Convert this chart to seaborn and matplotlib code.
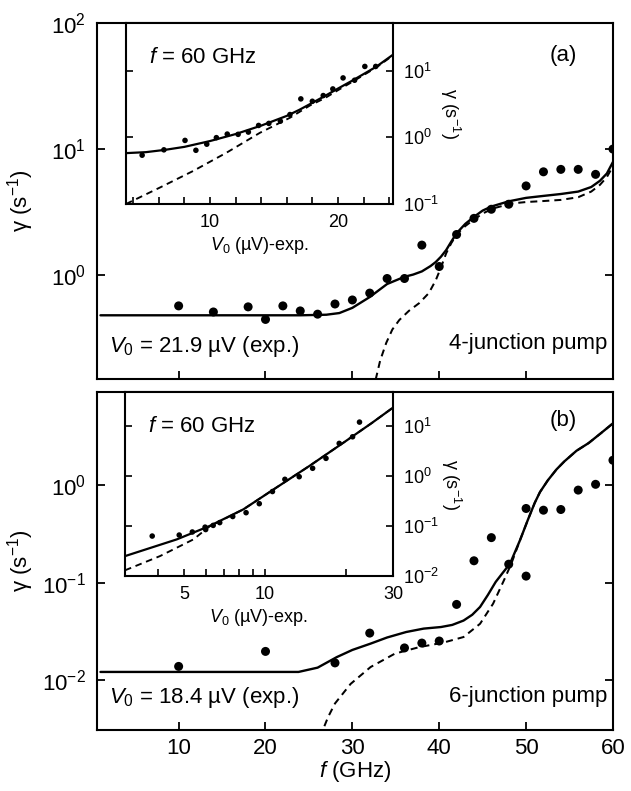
import matplotlib
matplotlib.use("Agg")
import matplotlib.pyplot as plt
from matplotlib.ticker import FixedLocator, NullLocator, NullFormatter
import seaborn as sns

# panel (a), main: 4-junction pump
a_f_pts = [10, 14, 18, 20, 22, 24, 26, 28, 30, 32, 34, 36, 38, 40, 42, 44, 46, 48, 50, 52, 54, 56, 58, 60]
a_g_pts = [0.57, 0.51, 0.56, 0.445, 0.57, 0.52, 0.49, 0.59, 0.635, 0.72, 0.94, 0.94, 1.73, 1.17,
           2.1, 2.82, 3.33, 3.65, 5.1, 6.6, 6.9, 6.9, 6.3, 10.0]
a_f_fit = [1, 24, 27, 28.5, 30, 32, 34, 36, 37, 38, 39, 39.6, 40.2, 40.8, 41.4, 42, 43, 44, 45, 46,
           48, 50, 52, 54, 56, 57.5, 58.5, 59.3, 60]
a_g_fit = [0.48, 0.48, 0.485, 0.5, 0.55, 0.67, 0.85, 0.97, 1.01, 1.07, 1.18, 1.27, 1.4, 1.58, 1.85,
           2.15, 2.55, 2.9, 3.25, 3.5, 3.85, 4.1, 4.25, 4.4, 4.6, 5.0, 5.6, 6.4, 7.9]
a_f_th = [32.3, 32.7, 33.2, 33.9, 34.6, 35.4, 36.5, 37.7, 38.8, 39.6, 40.2, 40.8, 41.4, 42.1, 43.0,
          43.9, 45.0, 46.2, 48.3, 50, 52, 54, 56, 57.5, 58.5, 59.3, 60]
a_g_th = [0.12, 0.15, 0.21, 0.29, 0.37, 0.44, 0.52, 0.6, 0.72, 0.91, 1.15, 1.49, 1.8, 2.14, 2.45,
          2.73, 3.08, 3.38, 3.7, 3.8, 3.87, 3.95, 4.15, 4.6, 5.2, 6.0, 7.3]

# panel (a), inset at f = 60 GHz
ai_v_pts = [4.7, 6.4, 8.05, 8.9, 9.75, 10.5, 11.35, 12.2, 13.0, 13.8, 14.6, 15.5, 16.25, 17.1, 18.0,
            18.85, 19.6, 20.4, 21.3, 22.1, 22.95]
ai_g_pts = [0.54, 0.65, 0.90, 0.64, 0.79, 0.99, 1.12, 1.11, 1.2, 1.51, 1.62, 1.75, 2.2, 3.78, 3.48,
            4.24, 5.33, 7.8, 7.2, 11.6, 11.6]
ai_v_fit = [3.44, 5, 6.5, 8, 10, 12, 14, 16, 17, 18, 19, 20, 21, 22, 23, 24.3]
ai_g_fit = [0.58, 0.6, 0.65, 0.72, 0.88, 1.12, 1.5, 2.1, 2.6, 3.3, 4.2, 5.4, 6.9, 8.9, 11.5, 17.4]
ai_v_th = [3.44, 6.1, 8.7, 11.3, 13.9, 16.25, 17.8, 19, 20, 21, 22, 23, 24.3]
ai_g_th = [0.1, 0.177, 0.314, 0.59, 1.17, 1.97, 3.0, 3.9, 5.1, 6.6, 8.6, 11.2, 17.0]

# panel (b), main: 6-junction pump
b_f_pts = [10, 20, 28, 32, 36, 38, 40, 42, 44, 46, 48, 50, 50, 52, 54, 56, 58, 60]
b_g_pts = [0.0139, 0.0198, 0.0151, 0.0305, 0.0215, 0.0241, 0.0253, 0.060, 0.168, 0.29, 0.155,
           0.577, 0.117, 0.554, 0.563, 0.89, 1.02, 1.8]
b_f_fit = [1, 23.8, 26, 28.2, 30, 32.1, 34, 36.2, 38.2, 40.2, 41.5, 42.8, 43.8, 44.7, 45.6, 46.5,
           47.3, 48.15, 49.3, 50.2, 51, 51.6, 52.5, 53.5, 54.4, 55.8, 57.2, 58.6, 60]
b_g_fit = [0.0122, 0.0122, 0.0135, 0.0173, 0.0205, 0.0238, 0.0275, 0.0313, 0.0339, 0.0352, 0.037,
           0.041, 0.047, 0.0565, 0.075, 0.102, 0.126, 0.157, 0.273, 0.44, 0.66, 0.85, 1.12, 1.45,
           1.75, 2.25, 2.7, 3.4, 4.3]
b_f_th = [26.3, 26.6, 27.2, 28.0, 29.8, 32.1, 34.9, 37.7, 40.5, 42.8, 44.7, 46.2, 47.45, 48.3, 49.3,
          50.2, 51, 51.6, 52.5, 53.5, 54.4, 55.8, 57.2, 58.6, 60]
b_g_th = [0.0026, 0.0031, 0.0042, 0.0058, 0.0092, 0.0137, 0.0188, 0.0219, 0.0244, 0.0278, 0.038,
          0.061, 0.106, 0.157, 0.273, 0.44, 0.66, 0.85, 1.12, 1.45, 1.75, 2.25, 2.7, 3.4, 4.3]

# panel (b), inset at f = 60 GHz
bi_v_pts = [3.79, 4.78, 5.35, 5.97, 6.0, 6.4, 6.77, 7.57, 8.49, 9.51, 10.65, 11.85, 13.4, 15.04,
            16.87, 18.9, 21.2, 22.5]
bi_g_pts = [0.063, 0.066, 0.076, 0.095, 0.085, 0.103, 0.117, 0.155, 0.185, 0.28, 0.49, 0.86, 0.97,
            1.43, 2.26, 4.5, 6.1, 12.0]
bi_v_fit = [3.0, 4.68, 6.2, 8.3, 11.0, 14.6, 19.6, 25, 30]
bi_g_fit = [0.025, 0.054, 0.1, 0.216, 0.585, 1.58, 4.65, 11.5, 23.4]
bi_v_th = [3.0, 4.05, 5.4, 6.2, 8.3, 11.0, 14.6, 19.6, 25, 30]
bi_g_th = [0.013, 0.025, 0.054, 0.098, 0.216, 0.585, 1.58, 4.65, 11.5, 23.4]

freq_ticks = [10, 20, 30, 40, 50, 60]
gamma_label = "γ (s$^{-1}$)"
v0_label = "$V_0$ (µV)-exp."

sns.set_theme(style="ticks", rc={"axes.edgecolor": "black", "xtick.color": "black",
                                  "ytick.color": "black", "text.color": "black",
                                  "axes.labelcolor": "black"})
plt.rcParams["font.family"] = ["Liberation Sans", "DejaVu Sans"]
plt.rcParams["mathtext.fontset"] = "custom"
plt.rcParams["mathtext.rm"] = "Liberation Sans"
plt.rcParams["mathtext.it"] = "Liberation Sans:italic"
plt.rcParams["mathtext.bf"] = "Liberation Sans:bold"
plt.rcParams["axes.linewidth"] = 1.5


def draw(ax, xp, yp, xf, yf, xt, yt, s, lw):
    ax.set_yscale("log")
    sns.lineplot(x=xt, y=yt, ax=ax, color="black", lw=lw * 0.85, sort=False, estimator=None)
    ax.lines[-1].set_dashes([3.5, 2.5])
    sns.lineplot(x=xf, y=yf, ax=ax, color="black", lw=lw, sort=False, estimator=None)
    sns.scatterplot(x=xp, y=yp, ax=ax, color="black", s=s, edgecolor="none", zorder=3)


def style_main(ax, ylim, yticks, show_x):
    ax.set_xlim(0.6, 60)
    ax.set_ylim(*ylim)
    ax.set_xticks(freq_ticks)
    ax.yaxis.set_major_locator(FixedLocator(yticks))
    ax.yaxis.set_minor_locator(NullLocator())
    ax.tick_params(which="both", direction="in", right=True, top=False, length=6, width=1.3,
                   labelsize=16, pad=8)
    ax.tick_params(axis="x", labelbottom=show_x, pad=6)
    ax.set_ylabel(gamma_label, fontsize=16)
    ax.yaxis.set_label_coords(-0.118, 0.5)
    ax.set_xlabel("")


def style_inset(ax, ylim, yticks):
    ax.set_facecolor("white")
    ax.set_ylim(*ylim)
    ax.yaxis.set_major_locator(FixedLocator(yticks))
    ax.yaxis.set_minor_locator(NullLocator())
    ax.tick_params(which="both", direction="in", left=True, right=True, labelleft=False,
                   labelright=True, length=5, width=1.2, labelsize=13, pad=7)
    ax.set_xlabel(v0_label, fontsize=13, labelpad=3)
    ax.set_ylabel("")
    ax.text(1.215, 0.5, gamma_label, transform=ax.transAxes, rotation=270, fontsize=13,
            ha="center", va="center", rotation_mode="anchor")
    ax.text(0.085, 0.81, "$f$ = 60 GHz", transform=ax.transAxes, fontsize=16, va="center")


fig = plt.figure(figsize=(6.31, 7.91), dpi=100)
ax_a = fig.add_axes([0.1537, 0.5209, 0.8177, 0.4500])
ax_b = fig.add_axes([0.1537, 0.0771, 0.8177, 0.4273])
in_a = fig.add_axes([0.1997, 0.7421, 0.4231, 0.2288])
in_b = fig.add_axes([0.1981, 0.2718, 0.4247, 0.2326])

draw(ax_a, a_f_pts, a_g_pts, a_f_fit, a_g_fit, a_f_th, a_g_th, 42, 1.7)
style_main(ax_a, (0.15, 100), [1, 10, 100], False)
ax_a.text(0.903, 0.91, "(a)", transform=ax_a.transAxes, fontsize=16, ha="center", va="center")
ax_a.text(0.023, 0.09, "$V_0$ = 21.9 µV (exp.)", transform=ax_a.transAxes, fontsize=16, va="center")
ax_a.text(0.99, 0.10, "4-junction pump", transform=ax_a.transAxes, fontsize=16, ha="right", va="center")

draw(ax_b, b_f_pts, b_g_pts, b_f_fit, b_g_fit, b_f_th, b_g_th, 42, 1.7)
style_main(ax_b, (0.0031, 9), [0.01, 0.1, 1], True)
ax_b.set_xlabel("$f$ (GHz)", fontsize=16, labelpad=0)
ax_b.text(0.903, 0.917, "(b)", transform=ax_b.transAxes, fontsize=16, ha="center", va="center")
ax_b.text(0.023, 0.095, "$V_0$ = 18.4 µV (exp.)", transform=ax_b.transAxes, fontsize=16, va="center")
ax_b.text(0.99, 0.098, "6-junction pump", transform=ax_b.transAxes, fontsize=16, ha="right", va="center")

draw(in_a, ai_v_pts, ai_g_pts, ai_v_fit, ai_g_fit, ai_v_th, ai_g_th, 16, 1.6)
in_a.set_xlim(3.44, 24.3)
in_a.set_xticks([10, 20])
in_a.xaxis.set_minor_locator(FixedLocator([4, 6, 8, 12, 14, 16, 18, 22, 24]))
style_inset(in_a, (0.1, 52), [0.1, 1, 10])

draw(in_b, bi_v_pts, bi_g_pts, bi_v_fit, bi_g_fit, bi_v_th, bi_g_th, 16, 1.6)
in_b.set_xscale("log")
in_b.set_xlim(3, 30)
in_b.xaxis.set_major_locator(FixedLocator([5, 10, 30]))
in_b.set_xticklabels(["5", "10", "30"])
in_b.xaxis.set_minor_locator(FixedLocator([4, 6, 7, 8, 9, 20]))
in_b.xaxis.set_minor_formatter(NullFormatter())
style_inset(in_b, (0.01, 48), [0.01, 0.1, 1, 10])

fig.savefig("out.png", dpi=100)
